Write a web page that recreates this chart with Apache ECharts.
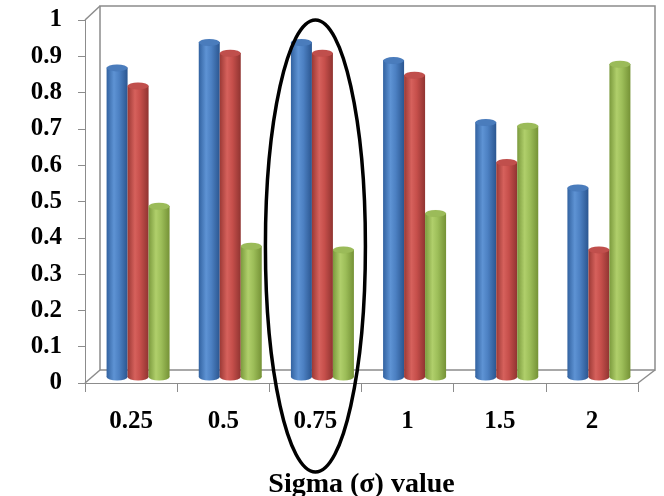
<!DOCTYPE html>
<html>
<head>
<meta charset="utf-8">
<script src="https://cdn.jsdelivr.net/npm/echarts@6/dist/echarts.min.js"></script>
<style>
  html, body { margin: 0; padding: 0; background: #fff; }
  #container { width: 664px; height: 496px; }
</style>
</head>
<body>
<div id="container"></div>
<script>
var categories = ['0.25', '0.5', '0.75', '1', '1.5', '2'];
var blueValues = [0.85, 0.92, 0.92, 0.87, 0.70, 0.52];
var redValues = [0.80, 0.89, 0.89, 0.83, 0.59, 0.35];
var greenValues = [0.47, 0.36, 0.35, 0.45, 0.69, 0.86];
var highlighted = '0.75';

var dom = document.getElementById("container");
var myChart = echarts.init(dom);
var option = null;

var fontFamily = "'Times New Roman', 'Liberation Serif', serif";

function cylinder(dark, light, mid, edge) {
    return {
        type: 'linear', x: 0, y: 0, x2: 1, y2: 0,
        colorStops: [
            {offset: 0, color: dark},
            {offset: 0.35, color: light},
            {offset: 0.6, color: mid},
            {offset: 1, color: edge}
        ]
    };
}

var seriesList = [
    {name: 'Series 1', data: blueValues, fill: cylinder('#3262a0', '#5e93d4', '#4c80c2', '#2b5690'), cap: '#4a7cbc', rim: '#2f5a90'},
    {name: 'Series 2', data: redValues, fill: cylinder('#9b3935', '#d6615c', '#c64f4b', '#903431'), cap: '#c04f4c', rim: '#8f3532'},
    {name: 'Series 3', data: greenValues, fill: cylinder('#7b9a3d', '#b0cf6b', '#9dbe59', '#759236'), cap: '#9bbb59', rim: '#6f8a35'}
];

var series = [];
seriesList.forEach(function (s) {
    // body of the cylinder
    series.push({
        name: s.name,
        type: 'bar',
        xAxisIndex: 1,
        yAxisIndex: 1,
        barWidth: 21,
        barGap: '0%',
        itemStyle: {color: s.fill},
        z: 2,
        data: s.data
    });
});
seriesList.forEach(function (s) {
    // top ellipse
    series.push({
        name: s.name,
        type: 'pictorialBar',
        xAxisIndex: 1,
        yAxisIndex: 1,
        barWidth: 21,
        barGap: '0%',
        symbol: 'circle',
        symbolSize: [21, 7],
        symbolPosition: 'end',
        symbolOffset: [0, '-50%'],
        itemStyle: {color: s.cap, borderColor: s.rim, borderWidth: 1},
        z: 4,
        data: s.data
    });
    // rounded bottom
    series.push({
        name: s.name,
        type: 'pictorialBar',
        xAxisIndex: 3,
        yAxisIndex: 3,
        barWidth: 21,
        barGap: '0%',
        symbol: 'circle',
        symbolSize: [21, 7],
        symbolPosition: 'start',
        symbolOffset: [0, '50%'],
        itemStyle: {color: s.fill},
        z: 1,
        data: s.data
    });
});

option = {
    backgroundColor: '#fff',
    animation: false,
    grid: [
        {left: 85, top: 20, right: 26, bottom: 113, outerBoundsMode: 'none'},   // front axes
        {left: 92, top: 13, right: 19, bottom: 119, outerBoundsMode: 'none'},   // bars (mid depth)
        {left: 100, top: 6, right: 9, bottom: 126, outerBoundsMode: 'none', show: true, borderColor: '#8c8c8c', borderWidth: 1.5, backgroundColor: 'transparent'}, // back wall
        {left: 92, top: 13, right: 19, bottom: 119, outerBoundsMode: 'none'}    // bar bottoms
    ],
    xAxis: [
        {
            type: 'category',
            gridIndex: 0,
            data: categories,
            axisLine: {lineStyle: {color: '#8c8c8c', width: 1}},
            axisTick: {show: true, length: 9, interval: 0, lineStyle: {color: '#8c8c8c'}},
            axisLabel: {margin: 26, interval: 0, color: '#000', fontSize: 25, fontWeight: 'bold', fontFamily: fontFamily},
            name: 'Sigma (\u03c3) value',
            nameLocation: 'middle',
            nameGap: 88,
            nameTextStyle: {color: '#000', fontSize: 28, fontWeight: 'bold', fontFamily: fontFamily}
        },
        {type: 'category', gridIndex: 1, data: categories, show: false},
        {type: 'value', gridIndex: 2, show: false},
        {type: 'category', gridIndex: 3, data: categories, show: false}
    ],
    yAxis: [
        {
            type: 'value',
            gridIndex: 0,
            min: 0,
            max: 1,
            interval: 0.1,
            axisLine: {show: true, lineStyle: {color: '#8c8c8c', width: 1}},
            axisTick: {show: true, length: 7, lineStyle: {color: '#8c8c8c'}},
            splitLine: {show: false},
            axisLabel: {margin: 23, color: '#000', fontSize: 25, fontWeight: 'bold', fontFamily: fontFamily}
        },
        {type: 'value', gridIndex: 1, min: 0, max: 1, show: false},
        {type: 'value', gridIndex: 2, show: false},
        {type: 'value', gridIndex: 3, min: 0, max: 1, show: false}
    ],
    series: series
};

if (option && typeof option === "object") {
    myChart.setOption(option, true);
}

// 3D frame edges and the ellipse round the highlighted group
var frontTop = myChart.convertToPixel({yAxisIndex: 0}, 1);
var frontZero = myChart.convertToPixel({yAxisIndex: 0}, 0);
var cx = myChart.convertToPixel({xAxisIndex: 0}, highlighted);
var edge = {stroke: '#8c8c8c', lineWidth: 1.5};

myChart.setOption({
    graphic: [
        {type: 'line', shape: {x1: 85, y1: frontTop, x2: 100, y2: 6}, style: edge, silent: true},
        {type: 'line', shape: {x1: 85, y1: frontZero, x2: 100, y2: 370}, style: edge, silent: true},
        {type: 'line', shape: {x1: 638, y1: frontZero, x2: 655, y2: 370}, style: edge, silent: true},
        {
            type: 'ellipse',
            shape: {cx: cx, cy: 246, rx: 50, ry: 226},
            style: {fill: 'none', stroke: '#000', lineWidth: 3.5},
            z: 100,
            silent: true
        }
    ]
});
</script>
</body>
</html>
